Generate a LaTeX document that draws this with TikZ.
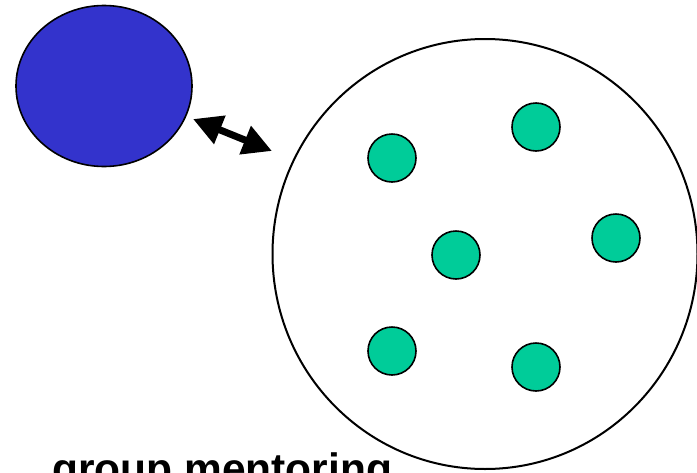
\documentclass[tikz,border=0pt]{standalone}
\usepackage{fontspec}
\setmainfont{Liberation Sans}
\usetikzlibrary{shapes.geometric,arrows.meta}
\definecolor{mentorblue}{HTML}{3333CC}
\definecolor{menteegreen}{HTML}{00CC99}
\tikzset{
  mentor/.style={ellipse, draw=black, line width=1.6pt, fill=mentorblue, minimum width=176pt, minimum height=161pt, inner sep=0pt},
  group/.style={ellipse, draw=black, line width=2pt, fill=white, minimum width=425pt, minimum height=430pt, inner sep=0pt},
  mentee/.style={circle, draw=black, line width=1.6pt, fill=menteegreen, minimum size=48pt, inner sep=0pt},
  link/.style={line width=7pt, {Triangle[length=29pt,width=29pt]}-{Triangle[length=29pt,width=29pt]}},
  caption/.style={font=\bfseries\fontsize{42.5}{50}\selectfont, anchor=base west, inner sep=0pt}
}
\begin{document}
\begin{tikzpicture}[x=1pt,y=-1pt]
\useasboundingbox (0,0) rectangle (697,472);
\node[mentor] (blue) at (104,86) {};
\node[group] (big) at (485,254) {};
\node[mentee] (m1) at (392,158) {};
\node[mentee] (m2) at (536,127) {};
\node[mentee] (m3) at (456,255) {};
\node[mentee] (m4) at (616,238) {};
\node[mentee] (m5) at (392,351) {};
\node[mentee] (m6) at (536,367) {};
\coordinate (tipA) at (193,119);
\coordinate (tipB) at (272,151);
\draw[link] (tipA) -- (tipB);
\node[caption] (label) at (52,483) {group mentoring};
\end{tikzpicture}
\end{document}
